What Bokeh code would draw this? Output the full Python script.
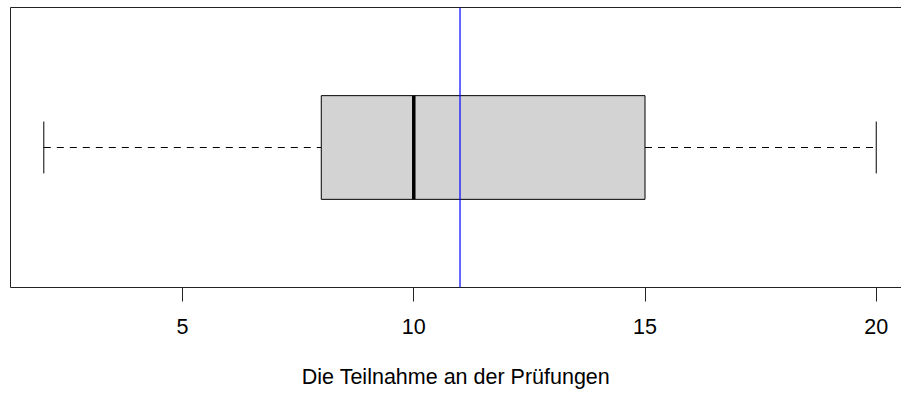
from bokeh.plotting import figure
from bokeh.models import Range1d, FixedTicker, LinearAxis, Span
from bokeh.embed import file_html
from bokeh.resources import INLINE

# --- data (five-number summary + mean) ---
stat_names = ["min", "q1", "median", "q3", "max"]
stat_values = [2, 8, 10, 15, 20]
mean_value = 11
tick_values = [5, 10, 15, 20]
axis_title = "Die Teilnahme an der Prüfungen"

wmin, q1, med, q3, wmax = stat_values
FONT = "Liberation Sans"

W, H = 901, 394
BL, BT, BB = 10, 7, 107
frame_w = W - BL

span = wmax - wmin
lo = wmin - 0.04 * span
hi = wmax + 0.04 * span
# reference frame runs past the picture's right edge; show only the visible part
x_end = lo + (hi - lo) * frame_w / (915 * W / 917)

p = figure(width=W, height=H, output_backend="svg", toolbar_location=None,
           x_range=Range1d(lo, x_end), y_range=Range1d(0.46, 1.54),
           min_border_left=BL, min_border_right=0, min_border_top=BT,
           min_border_bottom=BB, x_axis_location=None, y_axis_location=None)
p.outline_line_color = None
p.grid.visible = False
p.background_fill_color = "white"
p.border_fill_color = "white"

center = 1.0
half_box = 0.2
half_cap = 0.1

# whiskers (dashed)
p.segment(x0=[wmin, q3], y0=[center, center], x1=[q1, wmax], y1=[center, center],
          line_color="black", line_width=1, line_dash="7 6")
# caps
p.segment(x0=[wmin, wmax], y0=[center - half_cap] * 2, x1=[wmin, wmax], y1=[center + half_cap] * 2,
          line_color="black", line_width=1)
# box
p.quad(left=[q1], right=[q3], bottom=[center - half_box], top=[center + half_box],
       fill_color="#D3D3D3", line_color="black", line_width=1)
# median
p.segment(x0=[med], y0=[center - half_box], x1=[med], y1=[center + half_box],
          line_color="black", line_width=3.5)
# mean line
p.add_layout(Span(location=mean_value, dimension="height", line_color="#0000FF", line_width=1.2))

# bottom axis
xa = LinearAxis(ticker=FixedTicker(ticks=tick_values), axis_label=axis_title)
xa.axis_line_color = "#222222"
xa.major_tick_line_color = "#222222"
xa.major_tick_in = 0
xa.major_tick_out = 14
xa.minor_tick_line_color = None
xa.major_label_text_font = FONT
xa.major_label_text_font_size = "21.5px"
xa.major_label_text_color = "black"
xa.major_label_standoff = 17
xa.axis_label_text_font = FONT
xa.axis_label_text_font_size = "21.5px"
xa.axis_label_text_font_style = "normal"
xa.axis_label_text_color = "black"
xa.axis_label_standoff = 28
p.add_layout(xa, "below")

# frame lines (left and top) as bare axes
for loc in ("left", "above"):
    a = LinearAxis(ticker=FixedTicker(ticks=[]))
    a.axis_line_color = "#222222"
    a.major_tick_line_color = None
    a.minor_tick_line_color = None
    a.major_label_text_font_size = "0px"
    a.major_label_standoff = 0
    p.add_layout(a, loc)

open("out.html", "w").write(file_html(p, INLINE))
